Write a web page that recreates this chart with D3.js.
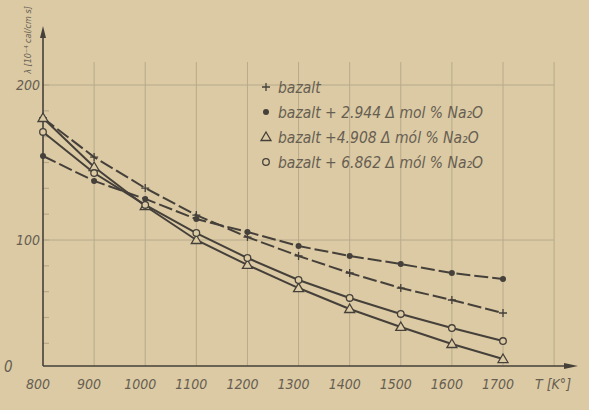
<!DOCTYPE html>
<html>
<head>
<meta charset="utf-8">
<script src="https://cdn.jsdelivr.net/npm/d3@7"></script>
<style>
  html, body { margin: 0; padding: 0; background: #dbcaa4; }
  svg { display: block; }
  text { font-family: "DejaVu Sans Condensed", "Liberation Sans Narrow", sans-serif; font-style: italic; fill: #675e52; }
</style>
</head>
<body>
<svg width="589" height="410"></svg>
<script>
// temperatures, K
const temps = [800, 900, 1000, 1100, 1200, 1300, 1400, 1500, 1600, 1700];
const xTickLabels = ['800', '900', '1000', '1100', '1200', '1300', '1400', '1500', '1600', '1700'];
const yTickLabels = [100, 200];

// series
const bazalt = [178.7, 153.5, 133.5, 116.1, 101.9, 89.7, 78.7, 69.0, 61.3, 52.9];
const na2944 = [154.2, 138.1, 126.5, 113.5, 105.2, 96.1, 89.7, 84.5, 78.7, 74.8];
const na4908 = [178.7, 147.1, 121.9, 100.0, 83.9, 69.0, 55.5, 43.9, 32.9, 23.2];
const na6862 = [169.7, 143.2, 122.6, 104.5, 88.4, 74.2, 62.6, 52.3, 43.2, 34.8];

const legendLabels = [
  'bazalt',
  'bazalt + 2.944 \u0394 mol % Na\u2082O',
  'bazalt +4.908 \u0394 mól % Na\u2082O',
  'bazalt + 6.862 \u0394 mól % Na\u2082O'
];

const series = [
  { values: bazalt, marker: 'plus', dash: '14,4' },
  { values: na2944, marker: 'dot', dash: '14,4' },
  { values: na4908, marker: 'tri', dash: null },
  { values: na6862, marker: 'circle', dash: null }
];

const ink = '#45403a';
const gridCol = '#b8aa8a';
const svg = d3.select('svg');

const x = d3.scaleLinear().domain([800, 1700]).range([43, 503]);
const y = d3.scaleLinear().domain([100, 200]).range([240, 85]);
const yBottom = 366;

// grid
const grid = svg.append('g');
grid.selectAll('line.v')
  .data(d3.range(900, 1801, 100))
  .join('line')
  .attr('x1', d => x(d)).attr('x2', d => x(d))
  .attr('y1', 62).attr('y2', yBottom)
  .attr('stroke', gridCol).attr('stroke-width', 1);
grid.selectAll('line.h')
  .data(yTickLabels)
  .join('line')
  .attr('x1', x(800)).attr('x2', x(1800))
  .attr('y1', d => y(d)).attr('y2', d => y(d))
  .attr('stroke', gridCol).attr('stroke-width', 1);

// y minor ticks
svg.append('g').selectAll('line')
  .data(d3.range(1, 12).map(i => 100 / 6 * i + 100 / 6))
  .join('line')
  .attr('x1', x(800)).attr('x2', x(800) + 6)
  .attr('y1', d => y(d)).attr('y2', d => y(d))
  .attr('stroke', gridCol).attr('stroke-width', 1.2);

// axes
svg.append('line')
  .attr('x1', x(800)).attr('x2', x(800))
  .attr('y1', yBottom).attr('y2', 30)
  .attr('stroke', ink).attr('stroke-width', 1.6);
svg.append('path')
  .attr('d', `M${x(800) - 3},${38} L${x(800)},${26} L${x(800) + 3},${38} Z`)
  .attr('fill', ink);
svg.append('line')
  .attr('x1', x(800)).attr('x2', 572)
  .attr('y1', yBottom).attr('y2', yBottom)
  .attr('stroke', ink).attr('stroke-width', 1.6);
svg.append('path')
  .attr('d', `M${564},${yBottom - 3} L${578},${yBottom} L${564},${yBottom + 3} Z`)
  .attr('fill', ink);

// tick labels
svg.append('g').selectAll('text')
  .data(temps)
  .join('text')
  .attr('x', d => x(d) - 5)
  .attr('y', 389)
  .attr('text-anchor', 'middle')
  .attr('font-size', 14)
  .text((d, i) => xTickLabels[i]);
svg.append('text').attr('x', 535).attr('y', 389).attr('font-size', 14).text('T [K°]');
svg.append('text').attr('x', 4).attr('y', 372).attr('font-size', 15).text('0');

svg.append('g').selectAll('text')
  .data(yTickLabels)
  .join('text')
  .attr('x', x(800) - 3)
  .attr('y', d => y(d) + 5)
  .attr('text-anchor', 'end')
  .attr('font-size', 14)
  .text(d => d);

// y axis title (rotated)
svg.append('text')
  .attr('transform', 'translate(31,40) rotate(-90)')
  .attr('text-anchor', 'middle')
  .attr('font-size', 9)
  .text('\u03bb [10\u207b\u2074 cal/cm s]');

// lines
const line = d3.line().x((d, i) => x(temps[i])).y(d => y(d));
svg.append('g').selectAll('path')
  .data(series)
  .join('path')
  .attr('d', s => line(s.values))
  .attr('fill', 'none')
  .attr('stroke', ink)
  .attr('stroke-width', 2)
  .attr('stroke-dasharray', s => s.dash);

function drawMarker(g, type, cx, cy) {
  if (type === 'plus') {
    g.append('path').attr('d', `M${cx - 4},${cy} H${cx + 4} M${cx},${cy - 4} V${cy + 4}`)
      .attr('stroke', ink).attr('stroke-width', 1.3);
  } else if (type === 'dot') {
    g.append('circle').attr('cx', cx).attr('cy', cy).attr('r', 3).attr('fill', ink);
  } else if (type === 'tri') {
    g.append('path').attr('d', `M${cx},${cy - 5} L${cx + 5},${cy + 3.5} L${cx - 5},${cy + 3.5} Z`)
      .attr('fill', '#dbcaa4').attr('stroke', ink).attr('stroke-width', 1.3);
  } else {
    g.append('circle').attr('cx', cx).attr('cy', cy).attr('r', 3.3)
      .attr('fill', '#dbcaa4').attr('stroke', ink).attr('stroke-width', 1.3);
  }
}

const marks = svg.append('g');
series.forEach(s => {
  s.values.forEach((v, i) => drawMarker(marks, s.marker, x(temps[i]), y(v)));
});

// legend
const legend = svg.append('g');
legendLabels.forEach((label, i) => {
  const ly = 92 + i * 25;
  const g = legend.append('g');
  drawMarker(g, series[i].marker, 266, ly - 5);
  g.append('text').attr('x', 278).attr('y', ly + 1).attr('font-size', 15.5)
    .attr('fill', '#71675a').text(label);
});
</script>
</body>
</html>
